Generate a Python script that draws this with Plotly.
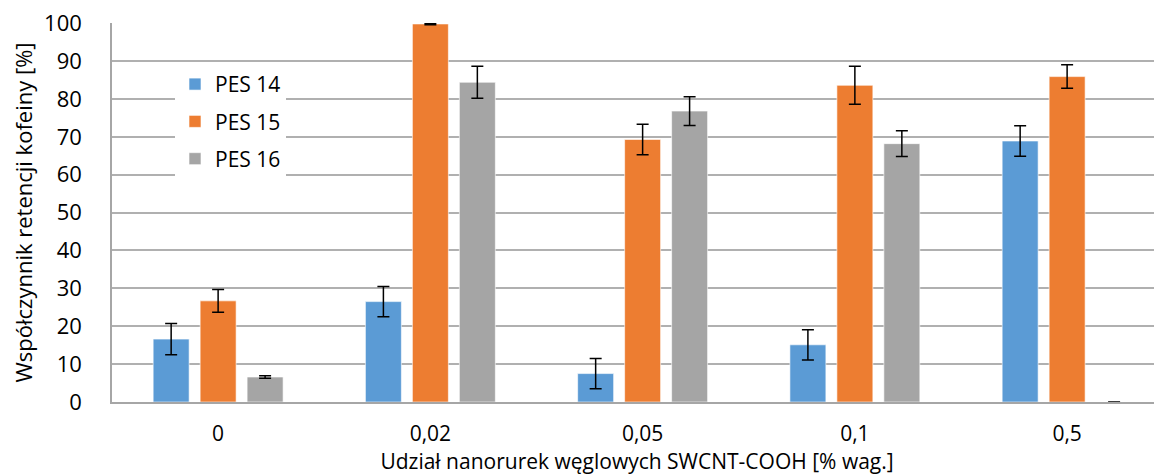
import plotly.graph_objects as go

categories = ["0", "0,02", "0,05", "0,1", "0,5"]
series_names = ["PES 14", "PES 15", "PES 16"]
pes14 = [16.6, 26.5, 7.5, 15.1, 68.9]
pes15 = [26.7, 99.8, 69.3, 83.6, 85.9]
pes16 = [6.6, 84.4, 76.8, 68.2, 0.0]
err14 = [4.1, 4.0, 4.0, 4.0, 4.0]
err15 = [3.0, 0.2, 4.0, 5.0, 3.1]
err16 = [0.35, 4.2, 3.8, 3.4, 0.0]
y_ticks = [0, 10, 20, 30, 40, 50, 60, 70, 80, 90, 100]
colors = ["#5B9BD5", "#ED7D31", "#A5A5A5"]

FONT = "Open Sans"
x = list(range(len(categories)))

fig = go.Figure()
for i, (name, vals, errs, col) in enumerate(zip(series_names, [pes14, pes15, pes16], [err14, err15, err16], colors)):
    fig.add_trace(go.Bar(
        x=x, y=vals, name=name, legendgroup=f"g{i}",
        marker=dict(color=col, line=dict(color="rgba(255,255,255,0.6)", width=1)),
        error_y=dict(type="data", array=errs, visible=True, color="black", thickness=1.5, width=6),
    ))

fig.update_layout(
    width=1154, height=467,
    margin=dict(l=104, r=0, t=15, b=73),
    paper_bgcolor="white", plot_bgcolor="white",
    barmode="group", bargap=0.336, bargroupgap=0.234,
    font=dict(family=FONT, size=22, color="black"),
    showlegend=True,
    legend=dict(x=0.06, y=0.892, xanchor="left", yanchor="top", bgcolor="white",
                font=dict(family=FONT, size=21), itemwidth=30, tracegroupgap=7),
    xaxis=dict(
        tickmode="array", tickvals=x, ticktext=categories,
        range=[-0.5, 4.447], showgrid=False, showline=True, linecolor="#A6A6A6", linewidth=1.5,
        ticks="", tickfont=dict(size=21, family=FONT), ticklabelstandoff=12,
        title=dict(text="Udział nanorurek węglowych SWCNT-COOH [% wag.]", font=dict(size=21, family=FONT), standoff=5),
        zeroline=False,
    ),
    yaxis=dict(
        range=[0, 100.05], tickmode="array", tickvals=y_ticks, showgrid=True, gridcolor="#B0B0B0", gridwidth=1.5,
        showline=True, linecolor="#A6A6A6", linewidth=1.5, ticks="", ticklabeloverflow="allow",
        tickfont=dict(size=22, family=FONT), zeroline=False, ticklabelstandoff=24,
        title=dict(text="Współczynnik retencji kofeiny [%]", font=dict(size=22, family=FONT), standoff=12),
    ),
)

fig.write_html("out.html")
